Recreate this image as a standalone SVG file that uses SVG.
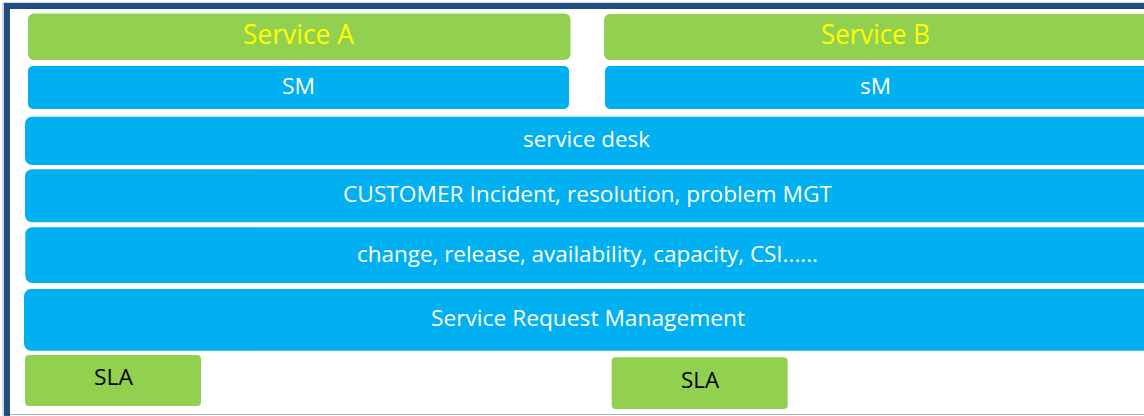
<svg xmlns="http://www.w3.org/2000/svg" width="1144" height="416" viewBox="0 0 1144 416">
<style>
.g{fill:#92D050}
.b{fill:#00B0F0}
text{font-family:"Open Sans","Noto Sans",sans-serif;text-anchor:middle}
.w{fill:#FFFFFF;font-size:22px}
.y{fill:#FFFF00;font-size:27px}
.k{fill:#000000;font-size:22px}
</style>
<rect x="0" y="0" width="1144" height="416" fill="#FFFFFF"/>
<g id="frame">
<rect x="3" y="3" width="1150" height="411.5" fill="none" stroke="#A6B4C8" stroke-width="1"/>
<path d="M7,416 V6 H1144" fill="none" stroke="#1F4E80" stroke-width="6"/>
</g>
<g id="serviceA"><rect class="g" x="28" y="13.5" width="542.5" height="46.5" rx="6"/><text class="y" x="298.5" y="43.5" textLength="111" lengthAdjust="spacingAndGlyphs">Service A</text></g>
<g id="serviceB"><rect class="g" x="604" y="14" width="560" height="46" rx="6"/><text class="y" x="875.5" y="43.5" textLength="109" lengthAdjust="spacingAndGlyphs">Service B</text></g>
<g id="SM"><rect class="b" x="28" y="66" width="541" height="43" rx="5"/><text class="w" x="298.5" y="94" textLength="33" lengthAdjust="spacingAndGlyphs">SM</text></g>
<g id="sM"><rect class="b" x="605" y="66" width="560" height="43" rx="5"/><text class="w" x="875.5" y="94" textLength="31" lengthAdjust="spacingAndGlyphs">sM</text></g>
<g id="servicedesk"><rect class="b" x="25" y="116.7" width="1140" height="48.3" rx="7"/><text class="w" x="586.5" y="146.7" textLength="127" lengthAdjust="spacingAndGlyphs">service desk</text></g>
<g id="customer"><rect class="b" x="25" y="169.3" width="1140" height="53" rx="7"/><text class="w" x="587.5" y="201.7" textLength="489" lengthAdjust="spacingAndGlyphs">CUSTOMER Incident, resolution, problem MGT</text></g>
<g id="change"><rect class="b" x="25.3" y="227.3" width="1140" height="55.7" rx="7"/><text class="w" x="587.5" y="261.7" textLength="461" lengthAdjust="spacingAndGlyphs">change, release, availability, capacity, CSI......</text></g>
<g id="srm"><rect class="b" x="24" y="289" width="1140" height="61.7" rx="7"/><text class="w" x="588" y="325.7" textLength="314" lengthAdjust="spacingAndGlyphs">Service Request Management</text></g>
<g id="sla1"><rect class="g" x="25" y="355" width="176" height="51" rx="4"/><text class="k" x="113.5" y="385" textLength="39" lengthAdjust="spacingAndGlyphs">SLA</text></g>
<g id="sla2"><rect class="g" x="611.7" y="357.3" width="176" height="51.7" rx="4"/><text class="k" x="700" y="388" textLength="38" lengthAdjust="spacingAndGlyphs">SLA</text></g>
<g id="connectors"></g>
</svg>
